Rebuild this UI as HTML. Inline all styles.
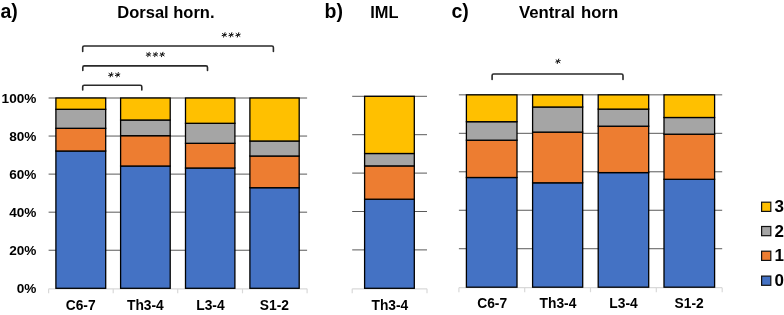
<!DOCTYPE html>
<html><head><meta charset="utf-8"><style>
html,body{margin:0;padding:0;background:#fff;width:784px;height:315px;overflow:hidden}
svg{display:block;will-change:transform}
text{font-family:"Liberation Sans",sans-serif;fill:#000}
</style></head><body>
<svg width="784" height="315" viewBox="0 0 784 315">
<line x1="48.6" y1="98.0" x2="307.1" y2="98.0" stroke="#5a5a5a" stroke-width="1"/>
<line x1="48.6" y1="136.06" x2="307.1" y2="136.06" stroke="#5a5a5a" stroke-width="1"/>
<line x1="48.6" y1="174.12" x2="307.1" y2="174.12" stroke="#5a5a5a" stroke-width="1"/>
<line x1="48.6" y1="212.18" x2="307.1" y2="212.18" stroke="#5a5a5a" stroke-width="1"/>
<line x1="48.6" y1="250.24" x2="307.1" y2="250.24" stroke="#5a5a5a" stroke-width="1"/>
<line x1="48.6" y1="288.8" x2="307.1" y2="288.8" stroke="#D9D9D9" stroke-width="1.2"/>
<line x1="48.6" y1="288.8" x2="48.6" y2="293.3" stroke="#D9D9D9" stroke-width="1.2"/>
<line x1="113.2" y1="288.8" x2="113.2" y2="293.3" stroke="#D9D9D9" stroke-width="1.2"/>
<line x1="177.7" y1="288.8" x2="177.7" y2="293.3" stroke="#D9D9D9" stroke-width="1.2"/>
<line x1="242.5" y1="288.8" x2="242.5" y2="293.3" stroke="#D9D9D9" stroke-width="1.2"/>
<line x1="307.1" y1="288.8" x2="307.1" y2="293.3" stroke="#D9D9D9" stroke-width="1.2"/>
<rect x="55.9" y="151.00" width="49.80" height="137.30" fill="#4472C4" stroke="#000" stroke-width="1.3"/>
<rect x="55.9" y="128.30" width="49.80" height="22.70" fill="#ED7D31" stroke="#000" stroke-width="1.3"/>
<rect x="55.9" y="109.30" width="49.80" height="19.00" fill="#A5A5A5" stroke="#000" stroke-width="1.3"/>
<rect x="55.9" y="98.00" width="49.80" height="11.30" fill="#FFC000" stroke="#000" stroke-width="1.3"/>
<rect x="120.6" y="166.00" width="49.60" height="122.30" fill="#4472C4" stroke="#000" stroke-width="1.3"/>
<rect x="120.6" y="135.70" width="49.60" height="30.30" fill="#ED7D31" stroke="#000" stroke-width="1.3"/>
<rect x="120.6" y="120.00" width="49.60" height="15.70" fill="#A5A5A5" stroke="#000" stroke-width="1.3"/>
<rect x="120.6" y="98.00" width="49.60" height="22.00" fill="#FFC000" stroke="#000" stroke-width="1.3"/>
<rect x="185.5" y="168.00" width="49.40" height="120.30" fill="#4472C4" stroke="#000" stroke-width="1.3"/>
<rect x="185.5" y="143.30" width="49.40" height="24.70" fill="#ED7D31" stroke="#000" stroke-width="1.3"/>
<rect x="185.5" y="123.30" width="49.40" height="20.00" fill="#A5A5A5" stroke="#000" stroke-width="1.3"/>
<rect x="185.5" y="98.00" width="49.40" height="25.30" fill="#FFC000" stroke="#000" stroke-width="1.3"/>
<rect x="249.9" y="187.70" width="49.30" height="100.60" fill="#4472C4" stroke="#000" stroke-width="1.3"/>
<rect x="249.9" y="156.00" width="49.30" height="31.70" fill="#ED7D31" stroke="#000" stroke-width="1.3"/>
<rect x="249.9" y="141.00" width="49.30" height="15.00" fill="#A5A5A5" stroke="#000" stroke-width="1.3"/>
<rect x="249.9" y="98.00" width="49.30" height="43.00" fill="#FFC000" stroke="#000" stroke-width="1.3"/>
<line x1="352.2" y1="96.3" x2="427.0" y2="96.3" stroke="#5a5a5a" stroke-width="1"/>
<line x1="352.2" y1="134.7" x2="427.0" y2="134.7" stroke="#5a5a5a" stroke-width="1"/>
<line x1="352.2" y1="173.1" x2="427.0" y2="173.1" stroke="#5a5a5a" stroke-width="1"/>
<line x1="352.2" y1="211.5" x2="427.0" y2="211.5" stroke="#5a5a5a" stroke-width="1"/>
<line x1="352.2" y1="249.89999999999998" x2="427.0" y2="249.89999999999998" stroke="#5a5a5a" stroke-width="1"/>
<line x1="352.2" y1="288.8" x2="427.0" y2="288.8" stroke="#D9D9D9" stroke-width="1.2"/>
<line x1="352.2" y1="288.8" x2="352.2" y2="293.3" stroke="#D9D9D9" stroke-width="1.2"/>
<line x1="427.0" y1="288.8" x2="427.0" y2="293.3" stroke="#D9D9D9" stroke-width="1.2"/>
<rect x="364.6" y="199.20" width="49.70" height="89.10" fill="#4472C4" stroke="#000" stroke-width="1.3"/>
<rect x="364.6" y="165.90" width="49.70" height="33.30" fill="#ED7D31" stroke="#000" stroke-width="1.3"/>
<rect x="364.6" y="153.50" width="49.70" height="12.40" fill="#A5A5A5" stroke="#000" stroke-width="1.3"/>
<rect x="364.6" y="96.30" width="49.70" height="57.20" fill="#FFC000" stroke="#000" stroke-width="1.3"/>
<line x1="458.9" y1="94.85" x2="722.2" y2="94.85" stroke="#5a5a5a" stroke-width="1"/>
<line x1="458.9" y1="133.32" x2="722.2" y2="133.32" stroke="#5a5a5a" stroke-width="1"/>
<line x1="458.9" y1="171.79" x2="722.2" y2="171.79" stroke="#5a5a5a" stroke-width="1"/>
<line x1="458.9" y1="210.26" x2="722.2" y2="210.26" stroke="#5a5a5a" stroke-width="1"/>
<line x1="458.9" y1="248.73" x2="722.2" y2="248.73" stroke="#5a5a5a" stroke-width="1"/>
<line x1="458.9" y1="287.7" x2="722.2" y2="287.7" stroke="#D9D9D9" stroke-width="1.2"/>
<line x1="458.9" y1="287.7" x2="458.9" y2="292.2" stroke="#D9D9D9" stroke-width="1.2"/>
<line x1="524.7" y1="287.7" x2="524.7" y2="292.2" stroke="#D9D9D9" stroke-width="1.2"/>
<line x1="590.5" y1="287.7" x2="590.5" y2="292.2" stroke="#D9D9D9" stroke-width="1.2"/>
<line x1="656.3" y1="287.7" x2="656.3" y2="292.2" stroke="#D9D9D9" stroke-width="1.2"/>
<line x1="722.2" y1="287.7" x2="722.2" y2="292.2" stroke="#D9D9D9" stroke-width="1.2"/>
<rect x="466.4" y="177.50" width="50.60" height="109.70" fill="#4472C4" stroke="#000" stroke-width="1.3"/>
<rect x="466.4" y="140.20" width="50.60" height="37.30" fill="#ED7D31" stroke="#000" stroke-width="1.3"/>
<rect x="466.4" y="121.70" width="50.60" height="18.50" fill="#A5A5A5" stroke="#000" stroke-width="1.3"/>
<rect x="466.4" y="94.85" width="50.60" height="26.85" fill="#FFC000" stroke="#000" stroke-width="1.3"/>
<rect x="532.6" y="182.80" width="50.10" height="104.40" fill="#4472C4" stroke="#000" stroke-width="1.3"/>
<rect x="532.6" y="132.10" width="50.10" height="50.70" fill="#ED7D31" stroke="#000" stroke-width="1.3"/>
<rect x="532.6" y="107.00" width="50.10" height="25.10" fill="#A5A5A5" stroke="#000" stroke-width="1.3"/>
<rect x="532.6" y="94.85" width="50.10" height="12.15" fill="#FFC000" stroke="#000" stroke-width="1.3"/>
<rect x="598.2" y="172.60" width="50.50" height="114.60" fill="#4472C4" stroke="#000" stroke-width="1.3"/>
<rect x="598.2" y="126.20" width="50.50" height="46.40" fill="#ED7D31" stroke="#000" stroke-width="1.3"/>
<rect x="598.2" y="109.10" width="50.50" height="17.10" fill="#A5A5A5" stroke="#000" stroke-width="1.3"/>
<rect x="598.2" y="94.85" width="50.50" height="14.25" fill="#FFC000" stroke="#000" stroke-width="1.3"/>
<rect x="664.0" y="179.30" width="50.60" height="107.90" fill="#4472C4" stroke="#000" stroke-width="1.3"/>
<rect x="664.0" y="134.20" width="50.60" height="45.10" fill="#ED7D31" stroke="#000" stroke-width="1.3"/>
<rect x="664.0" y="117.50" width="50.60" height="16.70" fill="#A5A5A5" stroke="#000" stroke-width="1.3"/>
<rect x="664.0" y="94.85" width="50.60" height="22.65" fill="#FFC000" stroke="#000" stroke-width="1.3"/>
<path d="M82.7 51.4 V47.5 Q82.7 46.0 84.2 46.0 H271.9 Q273.4 46.0 273.4 47.5 V51.4" fill="none" stroke="#2a2a2a" stroke-width="1.6" stroke-linecap="round"/>
<path d="M82.8 70.4 V67.4 Q82.8 65.9 84.3 65.9 H206.0 Q207.5 65.9 207.5 67.4 V70.4" fill="none" stroke="#2a2a2a" stroke-width="1.6" stroke-linecap="round"/>
<path d="M82.7 90.0 V86.8 Q82.7 85.3 84.2 85.3 H140.3 Q141.8 85.3 141.8 86.8 V90.0" fill="none" stroke="#2a2a2a" stroke-width="1.6" stroke-linecap="round"/>
<path d="M492.1 79.4 V75.5 Q492.1 74.0 493.6 74.0 H621.5 Q623.0 74.0 623.0 75.5 V79.4" fill="none" stroke="#2a2a2a" stroke-width="1.6" stroke-linecap="round"/>
<text x="36.4" y="103.0" font-size="13.6" text-anchor="end" font-weight="bold" >100%</text>
<text x="36.4" y="141.06" font-size="13.6" text-anchor="end" font-weight="bold" >80%</text>
<text x="36.4" y="179.12" font-size="13.6" text-anchor="end" font-weight="bold" >60%</text>
<text x="36.4" y="217.18" font-size="13.6" text-anchor="end" font-weight="bold" >40%</text>
<text x="36.4" y="255.24" font-size="13.6" text-anchor="end" font-weight="bold" >20%</text>
<text x="36.4" y="293.3" font-size="13.6" text-anchor="end" font-weight="bold" >0%</text>
<text x="80.7" y="309.6" font-size="13.8" text-anchor="middle" font-weight="bold" >C6-7</text>
<text x="145.4" y="309.6" font-size="13.8" text-anchor="middle" font-weight="bold" >Th3-4</text>
<text x="210.4" y="309.6" font-size="13.8" text-anchor="middle" font-weight="bold" >L3-4</text>
<text x="274.4" y="309.6" font-size="13.8" text-anchor="middle" font-weight="bold" >S1-2</text>
<text x="389.9" y="309.8" font-size="13.8" text-anchor="middle" font-weight="bold" >Th3-4</text>
<text x="492.2" y="308.2" font-size="13.8" text-anchor="middle" font-weight="bold" >C6-7</text>
<text x="558" y="308.2" font-size="13.8" text-anchor="middle" font-weight="bold" >Th3-4</text>
<text x="623.5" y="308.2" font-size="13.8" text-anchor="middle" font-weight="bold" >L3-4</text>
<text x="689.2" y="308.2" font-size="13.8" text-anchor="middle" font-weight="bold" >S1-2</text>
<text x="0.5" y="18.2" font-size="19.5" text-anchor="start" font-weight="bold" >a)</text>
<text x="324.5" y="18.2" font-size="19.5" text-anchor="start" font-weight="bold" >b)</text>
<text x="451.5" y="18.2" font-size="19.5" text-anchor="start" font-weight="bold" >c)</text>
<text x="117.3" y="17.6" font-size="16.5" text-anchor="start" font-weight="bold" >Dorsal horn.</text>
<text x="370.3" y="18.4" font-size="16.4" text-anchor="start" font-weight="bold" >IML</text>
<text x="519.0" y="17.6" font-size="16.75" text-anchor="start" font-weight="bold" word-spacing="1.6">Ventral horn</text>
<path d="M223.57 37.13L225.03 32.67M222.07 35.63L226.53 34.17M222.40 33.52L226.20 36.28" stroke="#111" stroke-width="1.0" stroke-linecap="round" fill="none"/>
<path d="M230.37 37.13L231.83 32.67M228.87 35.63L233.33 34.17M229.20 33.52L233.00 36.28" stroke="#111" stroke-width="1.0" stroke-linecap="round" fill="none"/>
<path d="M237.27 37.13L238.73 32.67M235.77 35.63L240.23 34.17M236.10 33.52L239.90 36.28" stroke="#111" stroke-width="1.0" stroke-linecap="round" fill="none"/>
<path d="M147.77 56.73L149.23 52.27M146.27 55.23L150.73 53.77M146.60 53.12L150.40 55.88" stroke="#111" stroke-width="1.0" stroke-linecap="round" fill="none"/>
<path d="M154.67 56.73L156.13 52.27M153.17 55.23L157.63 53.77M153.50 53.12L157.30 55.88" stroke="#111" stroke-width="1.0" stroke-linecap="round" fill="none"/>
<path d="M161.47 56.73L162.93 52.27M159.97 55.23L164.43 53.77M160.30 53.12L164.10 55.88" stroke="#111" stroke-width="1.0" stroke-linecap="round" fill="none"/>
<path d="M110.17 77.03L111.63 72.57M108.67 75.53L113.13 74.07M109.00 73.42L112.80 76.18" stroke="#111" stroke-width="1.0" stroke-linecap="round" fill="none"/>
<path d="M116.87 77.03L118.33 72.57M115.37 75.53L119.83 74.07M115.70 73.42L119.50 76.18" stroke="#111" stroke-width="1.0" stroke-linecap="round" fill="none"/>
<path d="M557.27 63.53L558.73 59.07M555.77 62.03L560.23 60.57M556.10 59.92L559.90 62.68" stroke="#111" stroke-width="1.0" stroke-linecap="round" fill="none"/>
<rect x="761.6" y="202.20" width="9.2" height="9.2" fill="#FFC000" stroke="#111" stroke-width="1.2"/>
<text x="774.4" y="212.4" font-size="17" text-anchor="start" font-weight="bold" >3</text>
<rect x="761.6" y="226.50" width="9.2" height="9.2" fill="#A5A5A5" stroke="#111" stroke-width="1.2"/>
<text x="774.4" y="236.7" font-size="17" text-anchor="start" font-weight="bold" >2</text>
<rect x="761.6" y="251.20" width="9.2" height="9.2" fill="#ED7D31" stroke="#111" stroke-width="1.2"/>
<text x="774.4" y="261.40000000000003" font-size="17" text-anchor="start" font-weight="bold" >1</text>
<rect x="761.6" y="276.10" width="9.2" height="9.2" fill="#4472C4" stroke="#111" stroke-width="1.2"/>
<text x="774.4" y="286.3" font-size="17" text-anchor="start" font-weight="bold" >0</text>
</svg>
</body></html>
